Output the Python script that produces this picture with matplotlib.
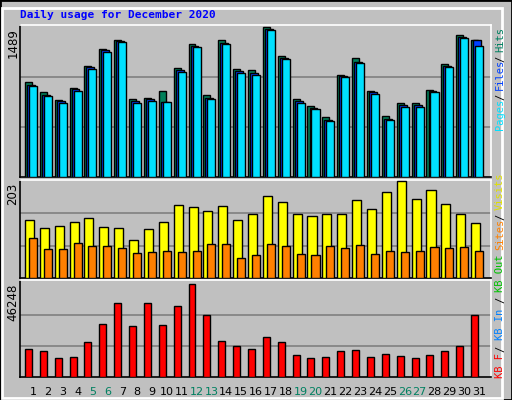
import numpy as np
import matplotlib.pyplot as plt
from matplotlib.patches import Rectangle

days = np.arange(1, 32)
hits = [920, 820, 750, 860, 1080, 1240, 1330, 760, 770, 830, 1060, 1290, 800, 1330, 1050,
        1040, 1460, 1170, 760, 690, 580, 990, 1150, 830, 590, 720, 720, 840, 1100, 1380, 1330]
files = [890, 800, 740, 850, 1070, 1230, 1320, 740, 760, 730, 1040, 1270, 770, 1300, 1030,
         1010, 1440, 1150, 740, 670, 550, 980, 1120, 820, 560, 700, 700, 830, 1080, 1360, 1330]
pages = [880, 790, 720, 830, 1050, 1210, 1310, 720, 740, 730, 1020, 1260, 760, 1290, 1010,
         990, 1430, 1140, 720, 660, 540, 970, 1110, 810, 550, 680, 680, 820, 1070, 1350, 1270]
visits = [117, 100, 105, 113, 121, 102, 100, 77, 98, 113, 146, 142, 134, 144, 117,
          128, 165, 153, 128, 125, 128, 128, 157, 138, 172, 195, 159, 176, 149, 128, 111]
sites = [80, 59, 59, 71, 65, 65, 61, 50, 52, 54, 52, 54, 69, 69, 40,
         46, 69, 65, 48, 46, 65, 61, 67, 48, 54, 52, 54, 63, 61, 63, 54]
kbytes = [13500, 12500, 9200, 9600, 16400, 25000, 35100, 24100, 35100, 24600, 33700, 44300,
          29400, 17300, 14500, 13500, 18800, 16400, 10600, 9200, 9600, 12500, 13000, 9600,
          11100, 10100, 9200, 10600, 12500, 14500, 29400]
weekend = [5, 6, 12, 13, 19, 20, 26, 27]

W, H = 512, 400
BG = "#c0c0c0"
fig = plt.figure(figsize=(W / 100, H / 100), dpi=100, facecolor=BG)
mono = "DejaVu Sans Mono"

# bevelled frame
fig.patches.append(Rectangle((0, 0), 1, 1, transform=fig.transFigure, fill=False,
                             edgecolor="black", lw=2))
fig.patches.append(Rectangle((2 / W, 2 / H), 1 - 12 / W, 1 - 10 / H, transform=fig.transFigure,
                             fill=False, edgecolor="white", lw=2))


def panel(top, bottom):
    x0, x1 = 20, 491
    ax = fig.add_axes([x0 / W, 1 - bottom / H, (x1 - x0) / W, (bottom - top) / H])
    ax.set_facecolor(BG)
    ax.set_xlim(0.13, 31.8)
    ax.set_xticks([])
    ax.set_yticks([])
    for s in ax.spines.values():
        s.set_color("black")
        s.set_linewidth(1.2)
    ax.spines["right"].set_color("white")
    ax.spines["top"].set_color("white")
    return ax


def bars(ax, vals, lo, hi, color):
    ax.bar(days + (lo + hi) / 2, vals, width=hi - lo, color=color, edgecolor="black",
           linewidth=1, zorder=3)


# top panel
ax1 = panel(25, 177)
mx1 = max(hits)
ax1.set_ylim(0, mx1 * 1.01)
for f in (1 / 3, 2 / 3):
    ax1.axhline(mx1 * f, color="#808080", lw=1.2, zorder=1)
bars(ax1, hits, -0.54, -0.07, "#00805a")
bars(ax1, files, -0.40, 0.13, "#0040ff")
bars(ax1, pages, -0.27, 0.27, "#00e0ff")

# middle panel
ax2 = panel(180, 278)
mx2 = max(visits)
ax2.set_ylim(0, mx2 * 1.01)
for f in (1 / 3, 2 / 3):
    ax2.axhline(mx2 * f, color="#808080", lw=1.2, zorder=1)
bars(ax2, visits, -0.54, 0.07, "#ffff00")
bars(ax2, sites, -0.27, 0.27, "#ff8000")

# bottom panel
ax3 = panel(280, 377)
mx3 = max(kbytes)
ax3.set_ylim(0, mx3 * 1.04)
for f in (1 / 3, 2 / 3):
    ax3.axhline(mx3 * f, color="#808080", lw=1.2, zorder=1)
bars(ax3, kbytes, -0.54, -0.07, "#ff0000")
ax3.set_xticks(days)
ax3.set_xticklabels([str(d) for d in days], fontsize=8, family="DejaVu Sans")
ax3.tick_params(axis="x", length=0, pad=7)
for lab, d in zip(ax3.get_xticklabels(), days):
    lab.set_color("#008060" if d in weekend else "black")

# title and left labels
fig.text(20 / W, 1 - 15 / H, "Daily usage for December 2020", family=mono,
         fontweight="bold", color="#0000ff", fontsize=8, va="center")
for txt, y in [("1489", 28), ("203", 183), ("46248", 284)]:
    fig.text(13 / W, 1 - y / H, txt, rotation=90, fontsize=8.5, ha="center", va="top",
             family="DejaVu Sans")

# right vertical legends (read bottom to top)
legend = [("Pages", "#00e0ff", 130), ("/", "black", 100), ("Files", "#0040ff", 90),
          ("/", "black", 62), ("Hits", "#008060", 52),
          ("KB F", "#ff0000", 378), ("/", "black", 352), ("KB In", "#0080ff", 340),
          ("/", "black", 303), ("KB Out", "#00c000", 292), ("Sites", "#ff8000", 250),
          ("/", "black", 220), ("Visits", "#e0e000", 210)]
for txt, col, y in legend:
    fig.text(500 / W, 1 - y / H, txt, rotation=90, color=col, family=mono,
             fontsize=7.5, ha="center", va="bottom")

fig.savefig("out.png", dpi=100, facecolor=BG)
